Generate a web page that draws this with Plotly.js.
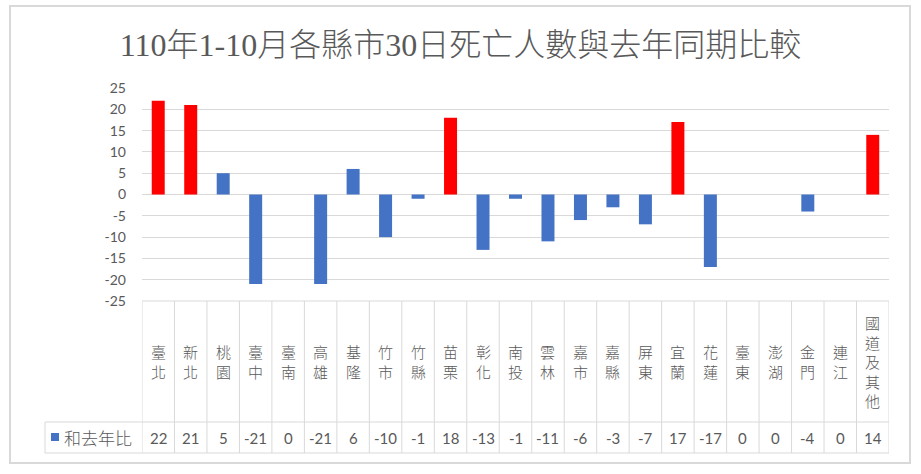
<!DOCTYPE html>
<html>
<head>
<meta charset="utf-8">
<script src="https://cdn.plot.ly/plotly-3.0.1.min.js"></script>
<style>
  html, body { margin: 0; padding: 0; background: #ffffff; }
  #chart { width: 921px; height: 474px; }
</style>
</head>
<body>
<div id="chart"></div>
<script>
// ---- data ----
const titleText = '110年1-10月各縣市30日死亡人數與去年同期比較';
const seriesName = '和去年比';
const categories = ['臺北','新北','桃園','臺中','臺南','高雄','基隆','竹市','竹縣','苗栗','彰化','南投','雲林','嘉市','嘉縣','屏東','宜蘭','花蓮','臺東','澎湖','金門','連江','國道及其他'];
const values = [22,21,5,-21,0,-21,6,-10,-1,18,-13,-1,-11,-6,-3,-7,17,-17,0,0,-4,0,14];
const yTicks = [25,20,15,10,5,0,-5,-10,-15,-20,-25];

// ---- layout geometry ----
const W = 921, H = 474, L = 142, R = 32, T = 88, B = 173;
const pw = W - L - R, ph = H - T - B;
const px2x = p => (p - L) / pw;
const py2y = p => (H - B - p) / ph;

const BLUE = '#4472C4', RED = '#FF0000', GRID = '#D9D9D9', TXT = '#595959';
const barColors = values.map(v => v >= 10 ? RED : BLUE);

const trace = {
  type: 'bar',
  x: categories,
  y: values,
  name: seriesName,
  marker: { color: barColors, line: { width: 0 } },
  hoverinfo: 'none'
};

const shapes = [];
const annotations = [];
// outer frame
shapes.push({ type: 'rect', xref: 'paper', yref: 'paper',
  x0: px2x(10), x1: px2x(910), y0: py2y(463), y1: py2y(6),
  line: { color: GRID, width: 2 }, fillcolor: 'rgba(0,0,0,0)', layer: 'below' });
// table top line (coincides with -25 gridline)
shapes.push({ type: 'line', xref: 'paper', yref: 'paper', x0: 0, x1: 1,
  y0: 0, y1: 0, line: { color: GRID, width: 1 }, layer: 'below' });
// table vertical lines
for (let i = 0; i <= categories.length; i++) {
  shapes.push({ type: 'line', xref: 'x', yref: 'paper', x0: i - 0.5, x1: i - 0.5,
    y0: py2y(453), y1: 0, line: { color: GRID, width: 1 } });
}
// table horizontal lines
[422, 453].forEach(py => {
  shapes.push({ type: 'line', xref: 'paper', yref: 'paper', x0: px2x(45), x1: 1,
    y0: py2y(py), y1: py2y(py), line: { color: GRID, width: 1 } });
});
shapes.push({ type: 'line', xref: 'paper', yref: 'paper', x0: px2x(45), x1: px2x(45),
  y0: py2y(453), y1: py2y(422), line: { color: GRID, width: 1 } });
// legend key
shapes.push({ type: 'rect', xref: 'paper', yref: 'paper', x0: px2x(51), x1: px2x(59),
  y0: py2y(441), y1: py2y(433), line: { width: 0 }, fillcolor: BLUE });
annotations.push({ xref: 'paper', yref: 'paper', x: px2x(62), y: py2y(437.5),
  xanchor: 'left', yanchor: 'middle', showarrow: false, text: seriesName,
  font: { family: '"Noto Sans CJK TC", sans-serif', size: 17, color: TXT, weight: 300 } });

// category labels (vertical text) and values row
categories.forEach((c, i) => {
  annotations.push({ xref: 'x', yref: 'paper', x: i, y: py2y(361.5),
    xanchor: 'center', yanchor: 'middle', showarrow: false,
    text: c.split('').join('<br>'),
    font: { family: '"Noto Sans CJK TC", sans-serif', size: 15, color: TXT, weight: 300 } });
  annotations.push({ xref: 'x', yref: 'paper', x: i, y: py2y(437.5),
    xanchor: 'center', yanchor: 'middle', showarrow: false,
    text: String(values[i]),
    font: { family: 'Lato, sans-serif', size: 15, color: TXT } });
});

const layout = {
  width: W, height: H,
  margin: { l: L, r: R, t: T, b: B, pad: 0 },
  paper_bgcolor: '#ffffff', plot_bgcolor: '#ffffff',
  showlegend: false,
  bargap: 0.6,
  title: {
    text: titleText,
    xref: 'container', yref: 'container', x: 0.5, y: 1 - 45 / H,
    xanchor: 'center', yanchor: 'middle',
    font: { family: '"Liberation Serif", "Noto Sans CJK TC", serif', size: 32, color: TXT, weight: 300 }
  },
  xaxis: {
    type: 'category', range: [-0.5, categories.length - 0.5],
    showticklabels: false, showgrid: false, zeroline: false, showline: false, ticks: ''
  },
  yaxis: {
    range: [-25, 25], tickmode: 'array', tickvals: yTicks, ticktext: yTicks.map(String),
    showgrid: true, gridcolor: GRID, gridwidth: 1, zeroline: false, showline: false,
    ticks: '', ticklabelstandoff: 15,
    tickfont: { family: 'Lato, sans-serif', size: 14, color: TXT }
  },
  shapes: shapes,
  annotations: annotations
};

Plotly.newPlot('chart', [trace], layout, { staticPlot: true, displayModeBar: false });
</script>
</body>
</html>
